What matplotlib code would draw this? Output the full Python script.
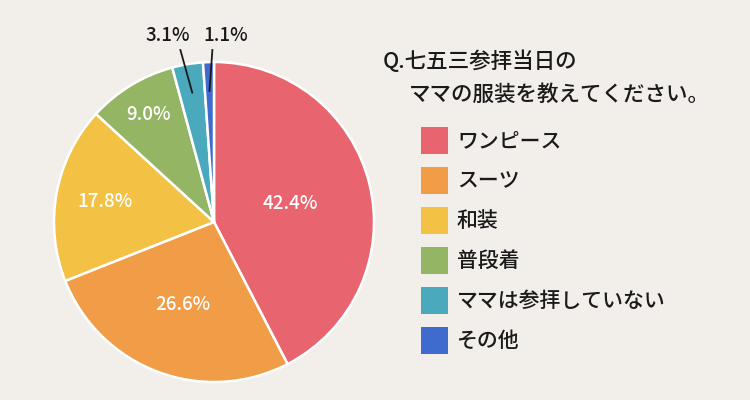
import numpy as np
import matplotlib
matplotlib.use("Agg")
import matplotlib.pyplot as plt

plt.rcParams['font.family'] = ['Noto Sans CJK JP', 'DejaVu Sans']

categories = ["ワンピース", "スーツ", "和装", "普段着", "ママは参拝していない", "その他"]
values = [42.4, 26.6, 17.8, 9.0, 3.1, 1.1]
title_lines = ["Q.七五三参拝当日の", "ママの服装を教えてください。"]

colors = ["#e8646f", "#f19c46", "#f3c244", "#94b563", "#4ba9bd", "#3f6bce"]
bg = "#f2eeea"
inner_r = [0.49, 0.55, 0.69, 0.79]

fig = plt.figure(figsize=(7.5, 4.0), dpi=100, facecolor=bg)
W, H = 750, 400
cx, cy, R = 214, 222, 160
ax = fig.add_axes([(cx - R) / W, (H - cy - R) / H, 2 * R / W, 2 * R / H])
ax.set_facecolor(bg)

wedges, _ = ax.pie(values, colors=colors, startangle=90, counterclock=False,
                   radius=1.0, wedgeprops=dict(edgecolor="white", linewidth=1.8))
ax.set_xlim(-1.0, 1.0)
ax.set_ylim(-1.0, 1.0)
ax.set_aspect('equal')
ax.axis('off')

for i, w in enumerate(wedges):
    mid = np.deg2rad((w.theta1 + w.theta2) / 2)
    lab = f"{values[i]:.1f}%"
    if i < len(inner_r):
        r = inner_r[i]
        ax.text(r * np.cos(mid), r * np.sin(mid), lab, ha='center', va='center',
                color='white', fontsize=13.5, fontweight='medium')

# outside labels
out_text_x = [-0.29, 0.07]
out_line_top = [(-0.21, 1.075), (-0.01, 1.075)]
for k, i in enumerate([4, 5]):
    w = wedges[i]
    mid = np.deg2rad((w.theta1 + w.theta2) / 2)
    ex, ey = 0.82 * np.cos(mid), 0.82 * np.sin(mid)
    ax.text(out_text_x[k], 1.165, f"{values[i]:.1f}%", ha='center', va='center',
            fontsize=13.5, fontweight='medium', color='#1a1a1a', clip_on=False)
    ax.plot([out_line_top[k][0], ex], [out_line_top[k][1], ey], color='#1a1a1a',
            lw=1.3, clip_on=False)

# title
fig.text(383 / W, 1 - 62 / H, title_lines[0], ha='left', va='center', fontsize=15.5,
         fontweight='medium', color='#1a1a1a')
fig.text(409 / W, 1 - 95 / H, title_lines[1], ha='left', va='center', fontsize=15.5,
         fontweight='medium', color='#1a1a1a')

# legend
for i, (c, lab) in enumerate(zip(colors, categories)):
    yc = 141 + 40 * i
    fig.patches.append(plt.Rectangle((421 / W, 1 - (yc + 13) / H), 27 / W, 27 / H,
                                     transform=fig.transFigure, facecolor=c, edgecolor='none'))
    fig.text(457 / W, 1 - yc / H, lab, ha='left', va='center', fontsize=15,
             fontweight='medium', color='#1a1a1a')

fig.savefig("out.png", dpi=100, facecolor=bg)
